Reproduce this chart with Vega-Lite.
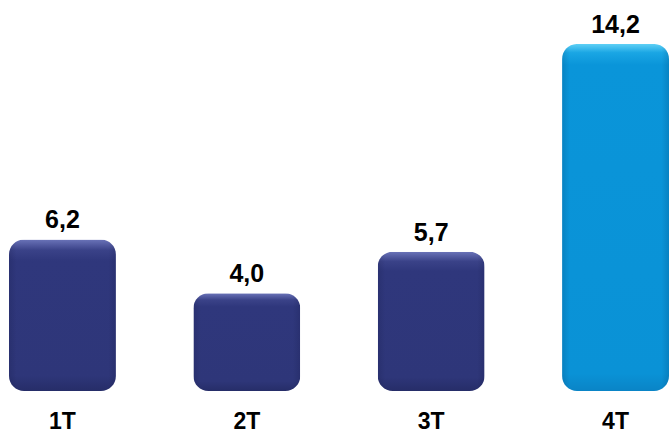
{
  "$schema": "https://vega.github.io/schema/vega-lite/v6.json",
  "width": 670,
  "height": 391,
  "padding": {"left": 0, "top": 0, "right": 0, "bottom": 43},
  "autosize": {"type": "none"},
  "background": "white",
  "config": {
    "view": {"stroke": null},
    "locale": {"number": {"decimal": ",", "thousands": ".", "grouping": [3], "currency": ["", ""]}}
  },
  "data": {
    "values": [
      {"q": "1T", "v": 6.2},
      {"q": "2T", "v": 4.0},
      {"q": "3T", "v": 5.7},
      {"q": "4T", "v": 14.2}
    ]
  },
  "encoding": {
    "x": {
      "field": "q", "type": "nominal", "sort": null,
      "scale": {"range": [9, 669], "paddingInner": 0.42, "paddingOuter": 0},
      "axis": null
    }
  },
  "layer": [
    {
      "mark": {"type": "bar", "cornerRadius": 15},
      "encoding": {
        "y": {"field": "v", "type": "quantitative", "scale": {"domain": [0, 16]}, "axis": null},
        "color": {
          "condition": {
            "test": "datum.q === '4T'",
            "value": {"gradient": "linear", "x1": 0, "y1": 0, "x2": 0, "y2": 1, "stops": [
              {"offset": 0, "color": "#5fd0f5"},
              {"offset": 0.025, "color": "#1aa6e4"},
              {"offset": 0.06, "color": "#0a95d9"},
              {"offset": 0.95, "color": "#0a92d6"},
              {"offset": 1, "color": "#0a84c6"}
            ]}
          },
          "value": {"gradient": "linear", "x1": 0, "y1": 0, "x2": 0, "y2": 1, "stops": [
            {"offset": 0, "color": "#6a73b8"},
            {"offset": 0.07, "color": "#3a4288"},
            {"offset": 0.14, "color": "#2f377c"},
            {"offset": 0.9, "color": "#2e3679"},
            {"offset": 1, "color": "#262d68"}
          ]}
        }
      }
    },
    {
      "mark": {"type": "bar", "cornerRadius": 15, "color": {"gradient": "linear", "x1": 0, "y1": 0, "x2": 1, "y2": 0, "stops": [
        {"offset": 0, "color": "rgba(0,0,30,0.12)"},
        {"offset": 0.07, "color": "rgba(0,0,30,0)"},
        {"offset": 0.93, "color": "rgba(0,0,30,0)"},
        {"offset": 1, "color": "rgba(0,0,30,0.12)"}
      ]}},
      "encoding": {
        "y": {"field": "v", "type": "quantitative"}
      }
    },
    {
      "mark": {"type": "text", "baseline": "alphabetic", "dy": -11, "font": "Liberation Sans", "fontSize": 25, "fontWeight": "bold", "color": "#000000"},
      "encoding": {
        "y": {"field": "v", "type": "quantitative"},
        "text": {"field": "v", "type": "quantitative", "format": ".1f"}
      }
    },
    {
      "mark": {"type": "text", "baseline": "bottom", "dy": 43, "font": "Liberation Sans", "fontSize": 23, "fontWeight": "bold", "color": "#000000"},
      "encoding": {
        "y": {"datum": 0, "type": "quantitative"},
        "text": {"field": "q", "type": "nominal"}
      }
    }
  ]
}
